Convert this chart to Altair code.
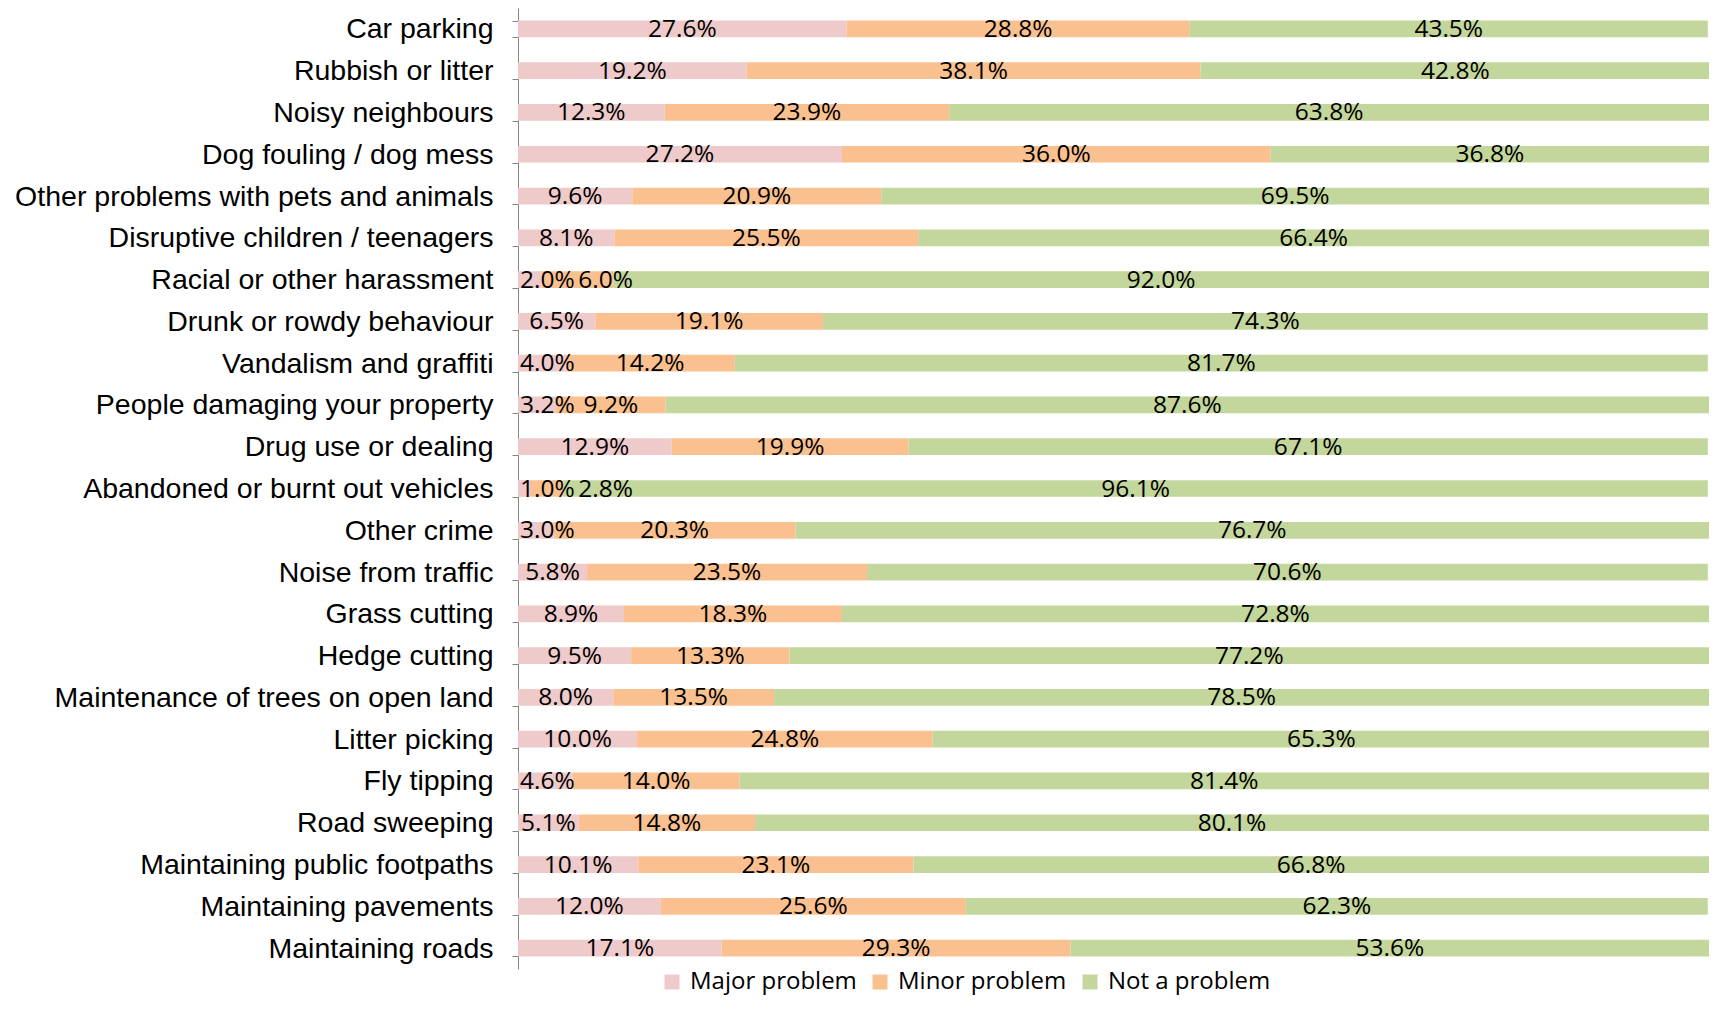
import altair as alt
import pandas as pd

categories = [
    "Car parking", "Rubbish or litter", "Noisy neighbours", "Dog fouling / dog mess",
    "Other problems with pets and animals", "Disruptive children / teenagers",
    "Racial or other harassment", "Drunk or rowdy behaviour", "Vandalism and graffiti",
    "People damaging your property", "Drug use or dealing", "Abandoned or burnt out vehicles",
    "Other crime", "Noise from traffic", "Grass cutting", "Hedge cutting",
    "Maintenance of trees on open land", "Litter picking", "Fly tipping", "Road sweeping",
    "Maintaining public footpaths", "Maintaining pavements", "Maintaining roads",
]
major = [27.6, 19.2, 12.3, 27.2, 9.6, 8.1, 2.0, 6.5, 4.0, 3.2, 12.9, 1.0,
         3.0, 5.8, 8.9, 9.5, 8.0, 10.0, 4.6, 5.1, 10.1, 12.0, 17.1]
minor = [28.8, 38.1, 23.9, 36.0, 20.9, 25.5, 6.0, 19.1, 14.2, 9.2, 19.9, 2.8,
         20.3, 23.5, 18.3, 13.3, 13.5, 24.8, 14.0, 14.8, 23.1, 25.6, 29.3]
not_problem = [43.5, 42.8, 63.8, 36.8, 69.5, 66.4, 92.0, 74.3, 81.7, 87.6, 67.1, 96.1,
               76.7, 70.6, 72.8, 77.2, 78.5, 65.3, 81.4, 80.1, 66.8, 62.3, 53.6]
series = ["Major problem", "Minor problem", "Not a problem"]
colors = ["#EECACA", "#FAC090", "#C3D69B"]

W, H = 1191, 961
LABEL_SIZE = 24.5
LEGEND_SIZE = 24
px_per_pct = W / 100.0


def label_half_width(text):
    # approximate Open Sans advance widths, in percent units
    n_dig = sum(ch.isdigit() for ch in text)
    w = (n_dig * 0.572 + 0.266 + 0.846) * LABEL_SIZE
    return w / 2 / px_per_pct


rows = []
for i, cat in enumerate(categories):
    vals = [major[i], minor[i], not_problem[i]]
    start = 0.0
    prev_right = 0.15
    for j, (s, v) in enumerate(zip(series, vals)):
        txt = f"{v:.1f}%"
        hw = label_half_width(txt)
        mid = start + v / 2
        pos = max(mid, prev_right + hw + (0.25 if j > 0 else 0))
        prev_right = pos + hw
        rows.append({"category": cat, "series": s, "order": j, "value": v,
                     "label": txt, "pos": pos})
        start += v
df = pd.DataFrame(rows)

y_enc = alt.Y(
    "category:N", sort=categories,
    scale=alt.Scale(paddingInner=0.6, paddingOuter=0.3),
    axis=alt.Axis(title=None, labelFont="Liberation Sans", labelFontSize=28.5,
                  labelColor="#000000", labelLimit=700, labelPadding=19,
                  domainColor="#868686", tickColor="#868686", tickSize=6,
                  tickBand="extent", grid=False),
)

bars = alt.Chart(df).mark_bar().encode(
    x=alt.X("value:Q", stack="zero", scale=alt.Scale(domain=[0, 100]), axis=None),
    y=y_enc,
    color=alt.Color("series:N", scale=alt.Scale(domain=series, range=colors),
                    sort=series,
                    legend=alt.Legend(title=None, orient="none", direction="horizontal",
                                      legendX=142, legendY=962,
                                      symbolType="square", symbolSize=225,
                                      symbolStrokeWidth=0, labelFont="Open Sans",
                                      labelFontSize=LEGEND_SIZE, labelColor="#000000",
                                      labelLimit=400, columnPadding=11, labelOffset=6)),
    order=alt.Order("order:Q"),
)

texts = alt.Chart(df).mark_text(
    font="Open Sans", fontSize=LABEL_SIZE, color="#000000",
    align="center", baseline="middle", dy=1,
).encode(
    x=alt.X("pos:Q", scale=alt.Scale(domain=[0, 100]), axis=None),
    y=alt.Y("category:N", sort=categories),
    text="label:N",
)

chart = alt.layer(bars, texts).properties(
    width=W, height=H,
    autosize=alt.AutoSizeParams(type="none"),
    padding={"left": 510, "top": 0, "right": 0, "bottom": 32},
).configure_view(stroke=None)

chart.save("out.html", embed_options={"renderer": "svg", "actions": False})
